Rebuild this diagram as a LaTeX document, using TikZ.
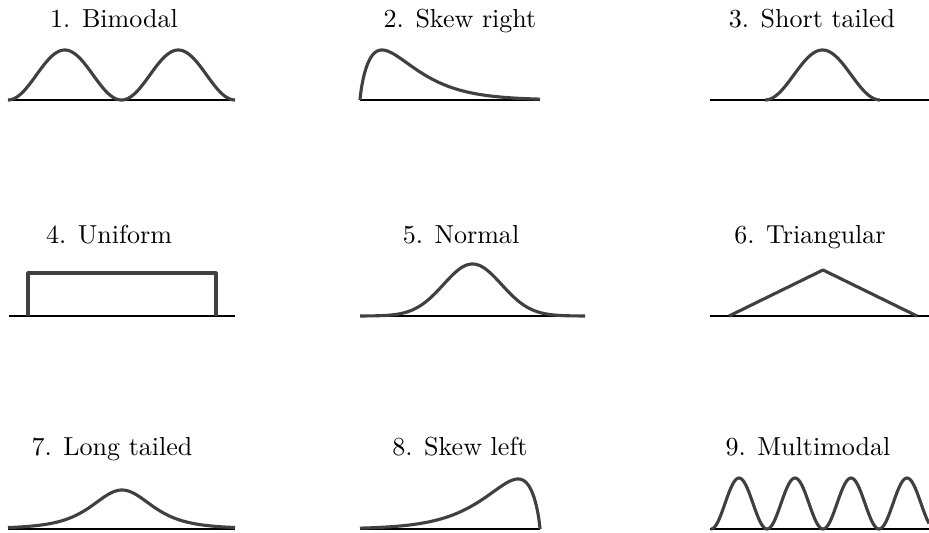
\documentclass[tikz,border=0pt]{standalone}
\usepackage{amsmath}
\usepackage{tikz}
\usepackage{xcolor}

\definecolor{curvegray}{RGB}{64,64,64}

\begin{document}
\begin{tikzpicture}[x=0.0135cm,y=0.0135cm,
  axis/.style={line width=0.75pt,black},
  curve/.style={line width=1.2pt,curvegray,line join=round},
  lbl/.style={anchor=base,inner sep=0pt}]
\useasboundingbox (0,0) rectangle (929,532);
% row 1
\node[lbl] (bimodal) at (114,504) {1. Bimodal};
\node[lbl] (skewright) at (460,504) {2. Skew right};
\node[lbl] (shorttailed) at (812,504) {3. Short tailed};
\draw[axis] (8,432)--(235,432);
\draw[curve] plot[domain=8:235,samples=150] (\x,{432+25*(1-cos((\x-8)/113.5*360))});
\draw[axis] (360,432)--(540,432);
\draw[curve] (360,432)--plot[domain=0.2:180,samples=150] ({360+\x},{432+50*(\x/22)^0.8*exp(0.8*(1-\x/22))});
\draw[axis] (710,432)--(929,432);
\draw[curve] plot[domain=765:880,samples=80] (\x,{432+25*(1-cos((\x-765)/115*360))});
% row 2
\node[lbl] (uniform) at (109,289) {4. Uniform};
\node[lbl] (normal) at (461,289) {5. Normal};
\node[lbl] (triangular) at (810,289) {6. Triangular};
\draw[axis] (9,216)--(235,216);
\draw[curve] (28,216)--(28,259)--(216,259)--(216,216);
\draw[axis] (360,216)--(585,216);
\draw[curve] plot[domain=360:585,samples=150] (\x,{216+52*exp(-((\x-472.5)/29)*((\x-472.5)/29)/2)});
\draw[axis] (710,216)--(929,216);
\draw[curve] (729,216)--(823,262)--(917,216);
% row 3
\node[lbl] (longtailed) at (112,77) {7. Long tailed};
\node[lbl] (skewleft) at (460,77) {8. Skew left};
\node[lbl] (multimodal) at (808,77) {9. Multimodal};
\draw[axis] (8,3)--(235,3);
\draw[curve] plot[domain=8:235,samples=150] (\x,{3+39/(1+((\x-122)/32)*((\x-122)/32)/3)^2});
\draw[axis] (360,3)--(540,3);
\draw[curve] (540,3)--plot[domain=0.2:180,samples=150] ({540-\x},{3+50*(\x/22)^0.8*exp(0.8*(1-\x/22))});
\draw[axis] (710,3)--(929,3);
\draw[curve] plot[domain=711:929,samples=200] (\x,{3+25.5*(1-cos((\x-711)/56*360))});
\end{tikzpicture}
\end{document}
